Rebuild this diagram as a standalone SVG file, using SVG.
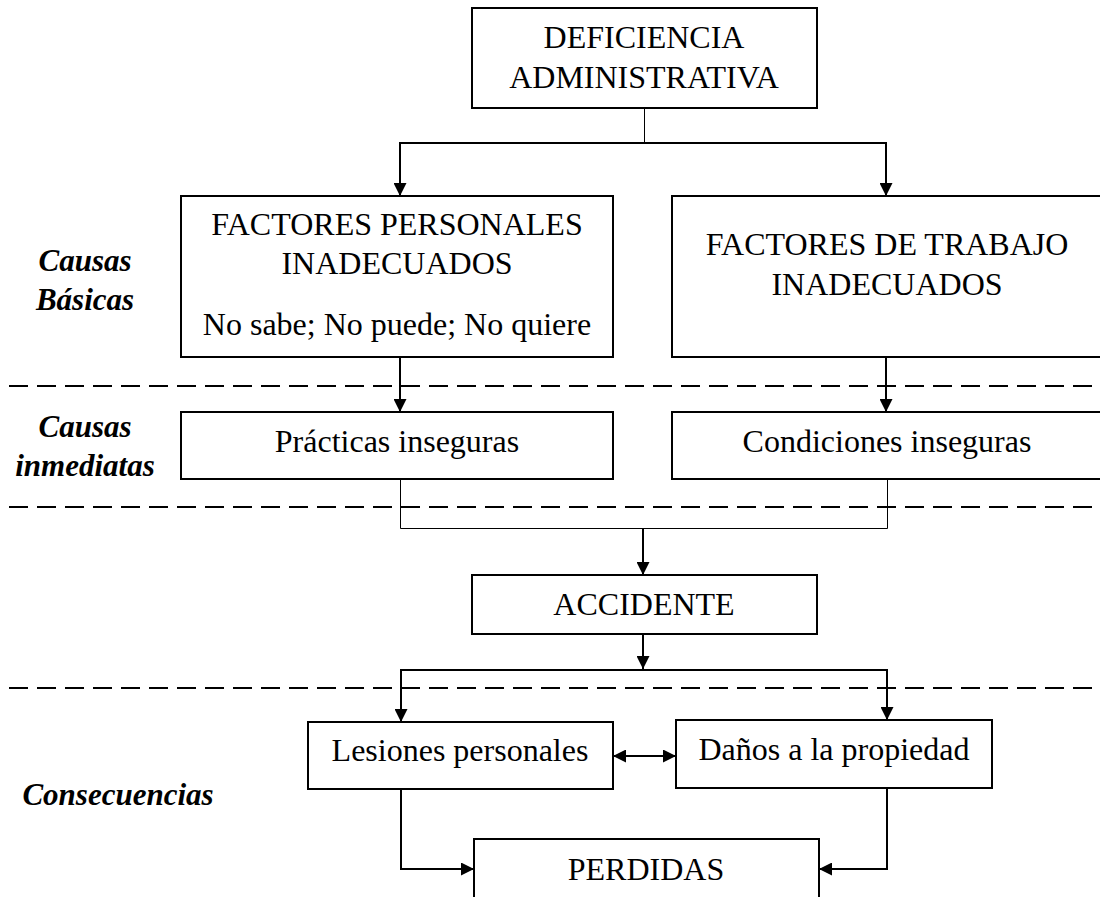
<svg xmlns="http://www.w3.org/2000/svg" width="1100" height="897" viewBox="0 0 1100 897">
<style>
.box{fill:#fff;stroke:#000;stroke-width:2}
.t{font-family:"Liberation Serif","Times New Roman",serif;font-size:32px;fill:#000;text-anchor:middle}
.lab{font-family:"Liberation Serif","Times New Roman",serif;font-size:31px;font-weight:bold;font-style:italic;fill:#000;text-anchor:middle}
.dash{stroke:#000;stroke-width:2;stroke-dasharray:19 9;fill:none}
.c{stroke:#000;stroke-width:2;fill:none}
.thin{stroke:#000;stroke-width:1;fill:none}
</style>
<defs>
<marker id="ah" viewBox="0 0 13 13" refX="13" refY="6.5" markerWidth="13" markerHeight="13" markerUnits="userSpaceOnUse" orient="auto-start-reverse">
<path d="M0,0 L13,6.5 L0,13 Z" fill="#000"/>
</marker>
</defs>
<rect width="1100" height="897" fill="#fff"/>
<g id="separators">
<line class="dash" x1="9" y1="386" x2="1100" y2="386"/>
<line class="dash" x1="9" y1="507" x2="1100" y2="507"/>
<line class="dash" x1="9" y1="688" x2="1100" y2="688"/>
</g>
<g id="labels">
<text class="lab" x="85" y="271">Causas</text>
<text class="lab" x="85" y="310">Básicas</text>
<text class="lab" x="85" y="437">Causas</text>
<text class="lab" x="85" y="476">inmediatas</text>
<text class="lab" x="118" y="805">Consecuencias</text>
</g>
<g id="connectors">
<line class="thin" x1="644.5" y1="108" x2="644.5" y2="143"/>
<line class="c" x1="399" y1="143" x2="887" y2="143"/>
<line class="c" x1="400" y1="143" x2="400" y2="196" marker-end="url(#ah)"/>
<line class="c" x1="886" y1="143" x2="886" y2="196" marker-end="url(#ah)"/>
<line class="c" x1="400" y1="357" x2="400" y2="412" marker-end="url(#ah)"/>
<line class="c" x1="886" y1="357" x2="886" y2="412" marker-end="url(#ah)"/>
<polyline class="thin" points="400.5,479 400.5,528.5 887.5,528.5 887.5,479"/>
<line class="c" x1="643" y1="528" x2="643" y2="575" marker-end="url(#ah)"/>
<line class="c" x1="643" y1="634" x2="643" y2="669" marker-end="url(#ah)"/>
<line class="c" x1="400" y1="670" x2="888" y2="670"/>
<line class="c" x1="401" y1="669" x2="401" y2="722" marker-end="url(#ah)"/>
<line class="c" x1="887" y1="669" x2="887" y2="720" marker-end="url(#ah)"/>
<line class="c" x1="613" y1="756" x2="676" y2="756" marker-start="url(#ah)" marker-end="url(#ah)"/>
<polyline class="c" points="401,789 401,869 474,869" marker-end="url(#ah)"/>
<polyline class="c" points="887,788 887,869 819,869" marker-end="url(#ah)"/>
</g>
<g id="deficiencia">
<rect class="box" x="472" y="8" width="345" height="100"/>
<text class="t" x="644" y="48">DEFICIENCIA</text>
<text class="t" x="644" y="88">ADMINISTRATIVA</text>
</g>
<g id="factores-personales">
<rect class="box" x="181" y="196" width="432" height="161"/>
<text class="t" x="397" y="235">FACTORES PERSONALES</text>
<text class="t" x="397" y="274">INADECUADOS</text>
<text class="t" x="397" y="335">No sabe; No puede; No quiere</text>
</g>
<g id="factores-trabajo">
<rect class="box" x="672" y="196" width="440" height="161"/>
<text class="t" x="887" y="255">FACTORES DE TRABAJO</text>
<text class="t" x="887" y="295">INADECUADOS</text>
</g>
<g id="practicas">
<rect class="box" x="181" y="412" width="432" height="67"/>
<text class="t" x="397" y="452">Prácticas inseguras</text>
</g>
<g id="condiciones">
<rect class="box" x="672" y="412" width="440" height="67"/>
<text class="t" x="887" y="452">Condiciones inseguras</text>
</g>
<g id="accidente">
<rect class="box" x="472" y="575" width="345" height="59"/>
<text class="t" x="644" y="615">ACCIDENTE</text>
</g>
<g id="lesiones">
<rect class="box" x="308" y="722" width="305" height="67"/>
<text class="t" x="460" y="761">Lesiones personales</text>
</g>
<g id="danos">
<rect class="box" x="676" y="720" width="316" height="68"/>
<text class="t" x="834" y="760">Daños a la propiedad</text>
</g>
<g id="perdidas">
<rect class="box" x="474" y="839" width="345" height="70"/>
<text class="t" x="646" y="880">PERDIDAS</text>
</g>
</svg>
